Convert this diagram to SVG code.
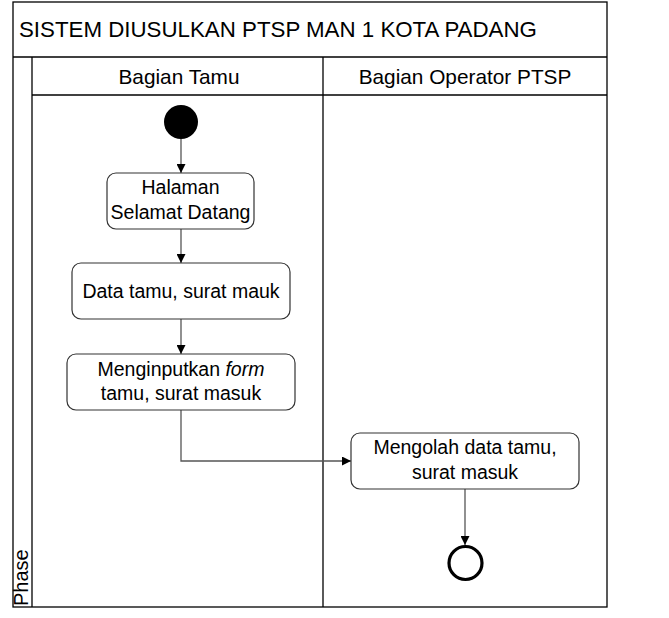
<svg xmlns="http://www.w3.org/2000/svg" width="669" height="618" viewBox="0 0 669 618">
  <defs>
    <marker id="arrow" viewBox="0 0 10 10" refX="10" refY="5" markerWidth="11" markerHeight="9" markerUnits="userSpaceOnUse" orient="auto">
      <path d="M0,0 L10,5 L0,10 Z" fill="#000"/>
    </marker>
    <style>
      .frame { fill: #fff; stroke: #000; stroke-width: 1.3; }
      .line { fill: none; stroke: #000; stroke-width: 1.3; }
      .node { fill: #fff; stroke: #333; stroke-width: 1.2; }
      .conn { fill: none; stroke: #555; stroke-width: 1.3; marker-end: url(#arrow); }
      .t { font-family: "Liberation Sans", Arial, sans-serif; fill: #000; }
      .title { font-size: 22.3px; }
      .hdr { font-size: 20.8px; text-anchor: middle; }
      .lbl { font-size: 19.5px; text-anchor: middle; }
    </style>
  </defs>

  <rect x="0" y="0" width="669" height="618" fill="#fff"/>

  <g id="pool">
    <rect class="frame" x="13" y="2" width="594" height="605"/>
    <line class="line" x1="13" y1="57" x2="607" y2="57"/>
    <line class="line" x1="32" y1="57" x2="32" y2="607"/>
    <line class="line" x1="32" y1="95" x2="607" y2="95"/>
    <line class="line" x1="323" y1="57" x2="323" y2="607"/>
    <text class="t title" x="19" y="37">SISTEM DIUSULKAN PTSP MAN 1 KOTA PADANG</text>
    <text class="t hdr" x="179" y="84">Bagian Tamu</text>
    <text class="t hdr" x="465" y="84">Bagian Operator PTSP</text>
    <text class="t" font-size="20" transform="translate(28,606) rotate(-90)">Phase</text>
  </g>

  <g id="connectors">
    <line class="conn" x1="181" y1="139" x2="181" y2="173"/>
    <line class="conn" x1="181" y1="229" x2="181" y2="263"/>
    <line class="conn" x1="181" y1="319" x2="181" y2="354"/>
    <polyline class="conn" points="181,410 181,461 351,461"/>
    <line class="conn" x1="465" y1="489" x2="465" y2="545"/>
  </g>

  <g id="start">
    <circle cx="181" cy="122" r="17" fill="#000"/>
  </g>

  <g id="halaman">
    <rect class="node" x="107" y="173" width="147" height="56" rx="9"/>
    <text class="t lbl" x="180.5" y="194">Halaman</text>
    <text class="t lbl" x="180.5" y="219">Selamat Datang</text>
  </g>

  <g id="datatamu">
    <rect class="node" x="72" y="263" width="218" height="56" rx="9"/>
    <text class="t lbl" x="181" y="298">Data tamu, surat mauk</text>
  </g>

  <g id="menginputkan">
    <rect class="node" x="67" y="354" width="228" height="56" rx="9"/>
    <text class="t lbl" x="181" y="376">Menginputkan <tspan font-style="italic">form</tspan></text>
    <text class="t lbl" x="181" y="400">tamu, surat masuk</text>
  </g>

  <g id="mengolah">
    <rect class="node" x="351" y="433" width="228" height="56" rx="9"/>
    <text class="t lbl" x="465" y="454">Mengolah data tamu,</text>
    <text class="t lbl" x="465" y="479">surat masuk</text>
  </g>

  <g id="end">
    <circle cx="465.5" cy="563" r="16.5" fill="#fff" stroke="#000" stroke-width="3.2"/>
  </g>
</svg>
